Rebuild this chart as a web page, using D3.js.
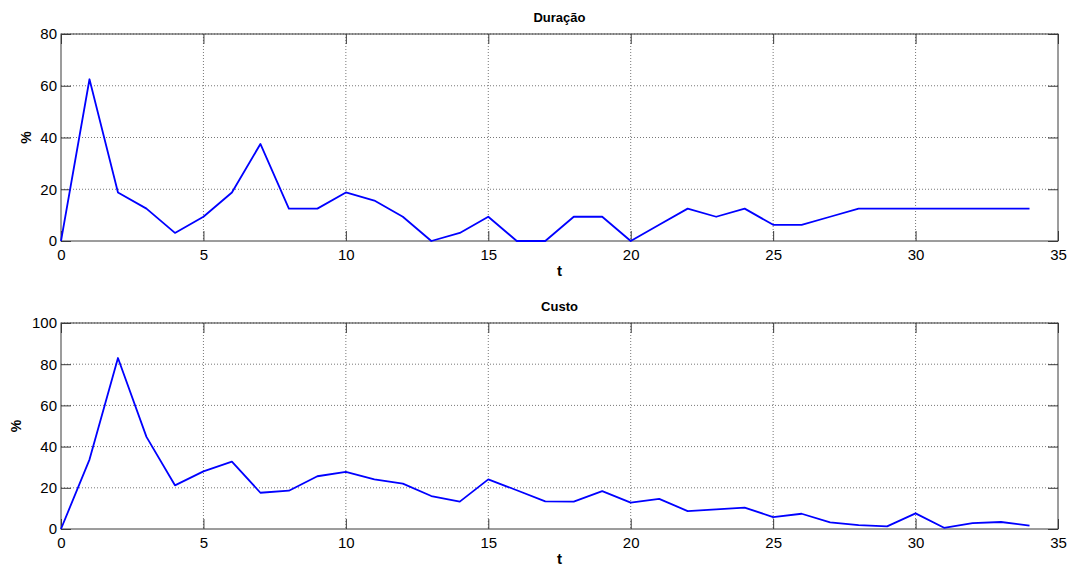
<!DOCTYPE html>
<html>
<head>
<meta charset="utf-8">
<script src="https://cdn.jsdelivr.net/npm/d3@7"></script>
<style>
  body { margin: 0; background: #fff; }
  svg { display: block; font-family: "Liberation Sans", Arial, sans-serif; }
</style>
</head>
<body>
<svg id="chart" width="1068" height="566"></svg>
<script>
// ---- data ----
const t = d3.range(0, 35); // 0..34
const duracao = [0, 62.5, 18.75, 12.5, 3.125, 9.375, 18.75, 37.5, 12.5, 12.5,
  18.75, 15.625, 9.375, 0, 3.125, 9.375, 0, 0, 9.375, 9.375,
  0, 6.25, 12.5, 9.375, 12.5, 6.25, 6.25, 9.375, 12.5, 12.5,
  12.5, 12.5, 12.5, 12.5, 12.5];
const custo = [0, 33.7, 83.0, 44.7, 21.2, 28.0, 32.7, 17.6, 18.6, 25.6,
  27.7, 24.1, 22.0, 16.0, 13.3, 24.1, 18.8, 13.4, 13.3, 18.4,
  12.8, 14.6, 8.7, 9.5, 10.4, 5.8, 7.4, 3.2, 1.9, 1.3,
  7.6, 0.6, 2.9, 3.4, 1.6];
const xTicks = [0, 5, 10, 15, 20, 25, 30, 35];
const yTicksTop = [0, 20, 40, 60, 80];
const yTicksBottom = [0, 20, 40, 60, 80, 100];
const titles = ["Duração", "Custo"];
const xLabel = "t";
const yLabel = "%";

// ---- layout ----
const svg = d3.select("#chart");
const left = 61, right = 1058;
const panels = [
  { title: titles[0], values: duracao, yMax: 80, yTicks: yTicksTop, top: 34, bottom: 241, ylabX: 26 },
  { title: titles[1], values: custo, yMax: 100, yTicks: yTicksBottom, top: 323, bottom: 529, ylabX: 16 }
];
const boxColor = "#3a3a3a";
const tickLen = 10;

panels.forEach(p => {
  const x = d3.scaleLinear().domain([0, 35]).range([left, right]);
  const y = d3.scaleLinear().domain([0, p.yMax]).range([p.bottom, p.top]);
  const g = svg.append("g");

  // grid
  g.append("g").selectAll("line").data(xTicks.slice(1, -1)).join("line")
    .attr("x1", d => x(d)).attr("x2", d => x(d))
    .attr("y1", p.top).attr("y2", p.bottom)
    .attr("stroke", "#777").attr("stroke-width", 1).attr("stroke-dasharray", "1,2");
  g.append("g").selectAll("line").data(p.yTicks.slice(1, -1)).join("line")
    .attr("y1", d => y(d)).attr("y2", d => y(d))
    .attr("x1", left).attr("x2", right)
    .attr("stroke", "#777").attr("stroke-width", 1).attr("stroke-dasharray", "1,2");
  // top gridline dotted (MATLAB draws grid at top too)
  g.append("line").attr("x1", left).attr("x2", right).attr("y1", y(p.yMax)).attr("y2", y(p.yMax))
    .attr("stroke", "#777").attr("stroke-dasharray", "1,2");

  // axes (ticks inward)
  const xAxisB = d3.axisBottom(x).tickValues(xTicks).tickSize(-tickLen).tickPadding(8).tickFormat(d3.format("d"));
  const xAxisT = d3.axisTop(x).tickValues(xTicks).tickSize(-tickLen).tickFormat("");
  const yAxisL = d3.axisLeft(y).tickValues(p.yTicks).tickSize(-tickLen).tickPadding(4).tickFormat(d3.format("d"));
  const yAxisR = d3.axisRight(y).tickValues(p.yTicks).tickSize(-tickLen).tickFormat("");

  const styleAxis = sel => {
    sel.select(".domain").remove();
    sel.selectAll("line").attr("stroke", boxColor).attr("stroke-width", 1);
    sel.selectAll("text").attr("fill", "#000").attr("font-size", 15)
      .attr("font-family", "'Liberation Sans', Arial, sans-serif");
  };
  g.append("g").attr("transform", `translate(0,${p.bottom})`).call(xAxisB).call(styleAxis);
  g.append("g").attr("transform", `translate(0,${p.top})`).call(xAxisT).call(styleAxis);
  g.append("g").attr("transform", `translate(${left},0)`).call(yAxisL).call(styleAxis);
  g.append("g").attr("transform", `translate(${right},0)`).call(yAxisR).call(styleAxis);

  // box
  g.append("rect").attr("x", left).attr("y", p.top)
    .attr("width", right - left).attr("height", p.bottom - p.top)
    .attr("fill", "none").attr("stroke", boxColor).attr("stroke-width", 1);

  // line
  const line = d3.line().x((d, i) => x(t[i])).y(d => y(d));
  g.append("path").datum(p.values).attr("d", line)
    .attr("fill", "none").attr("stroke", "#0000ff").attr("stroke-width", 1.8)
    .attr("stroke-linejoin", "round");

  // title
  g.append("text").attr("x", (left + right) / 2).attr("y", p.top - 12)
    .attr("text-anchor", "middle").attr("font-weight", "bold").attr("font-size", 13)
    .text(p.title);
  // x label
  g.append("text").attr("x", (left + right) / 2).attr("y", p.bottom + 35)
    .attr("text-anchor", "middle").attr("font-weight", "bold").attr("font-size", 15)
    .text(xLabel);
  // y label
  g.append("text")
    .attr("transform", `translate(${p.ylabX + 5},${(p.top + p.bottom) / 2}) rotate(-90)`)
    .attr("text-anchor", "middle").attr("font-weight", "bold").attr("font-size", 14)
    .text(yLabel);
});
</script>
</body>
</html>
